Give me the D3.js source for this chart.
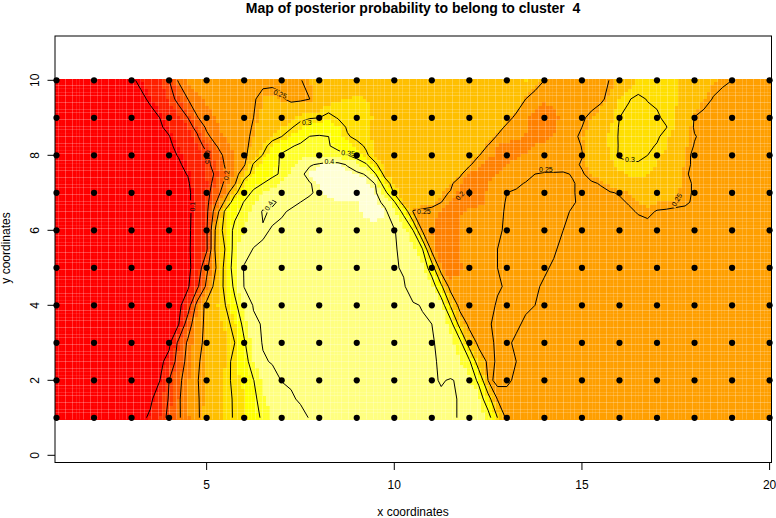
<!DOCTYPE html>
<html><head><meta charset="utf-8">
<script src="https://cdnjs.cloudflare.com/ajax/libs/d3/7.8.5/d3.min.js"></script>
<style>html,body{margin:0;padding:0;background:#fff}svg{display:block}text{font-family:"Liberation Sans",Arial,sans-serif;fill:#000}</style>
</head><body><svg id="c" width="776" height="518"></svg>
<script>
// posterior probability (per mille); x = 1, 1.25 ... 20
const rowY100=[85,85,85,85, 87,88,90,93, 97,104,118,133, 149,205,232,236, 238,240,242,243, 244,245,245,245, 245,247,249,256, 262,265,268,268, 268,268,268,268, 268,268,268,268, 268,268,268,268, 268,268,268,269, 270,280,286,272, 250,240,236,234, 234,236,243,251, 258,272,288,295, 295,293,288,276, 266,260,256,253, 250,245,240,238, 236];
const rowY95=[85,85,85,85, 85,86,88,90, 92,96,103,118, 138,158,200,218, 228,232,236,240, 244,248,256,258, 253,244,245,250, 262,272,282,285, 288,286,280,274, 270,270,270,270, 270,270,270,270, 270,270,270,272, 275,285,250,232, 228,230,233,236, 238,241,245,258, 285,299,304,299, 295,292,288,278, 268,256,249,245, 242,240,238,237, 236];
const rowY90=[85,85,85,85, 85,85,86,87, 88,90,94,100, 115,132,150,198, 215,226,232,237, 243,250,258,264, 270,280,292,298, 300,310,298,294, 290,288,283,275, 270,268,268,268, 268,268,268,268, 268,268,270,278, 268,238,228,220, 216,220,228,234, 247,255,265,280, 300,304,306,306, 304,294,282,266, 249,245,243,242, 241,240,239,238, 238];
const rowY875=[85,85,85,85, 85,85,85,86, 87,89,92,97, 106,120,135,162, 208,222,230,236, 243,252,262,274, 285,297,312,322, 330,333,318,296, 291,288,282,273, 269,267,267,267, 267,267,267,267, 267,268,272,270, 240,232,226,218, 216,222,232,240, 250,259,270,285, 302,306,307,307, 305,301,280,264, 248,245,244,243, 242,241,240,239, 238];
const rowY85=[85,85,85,85, 85,85,85,86, 87,88,90,94, 99,113,125,145, 190,218,228,235, 243,255,268,285, 300,315,335,351, 353,350,325,303, 293,288,280,272, 268,266,266,266, 266,266,266,266, 266,268,275,245, 238,232,224,215, 218,225,236,245, 254,264,275,290, 302,306,307,307, 304,290,272,260, 251,246,244,243, 242,241,240,239, 238];
const rowY825=[85,85,85,85, 85,85,85,85, 85,86,88,91, 96,106,118,135, 160,198,218,230, 242,260,285,318, 332,347,356,362, 360,352,340,325, 310,296,282,272, 267,265,265,265, 265,265,265,265, 268,268,248,224, 216,212,218,226, 230,233,236,240, 251,263,273,288, 302,306,306,305, 298,286,270,258, 249,246,244,243, 242,241,240,239, 238];
const rowY80=[85,85,85,85, 85,85,85,85, 85,86,87,90, 95,101,112,128, 145,178,210,225, 242,270,302,335, 355,362,368,372, 374,370,362,352, 330,305,284,272, 266,264,264,264, 264,264,264,264, 270,252,232,222, 216,220,228,232, 234,236,238,242, 249,262,270,286, 303,305,304,300, 290,280,268,254, 247,245,244,243, 242,241,240,239, 238];
const rowY775=[85,85,85,85, 85,85,85,85, 85,85,85,88, 92,97,106,120, 140,165,205,226, 245,305,325,338, 355,370,385,398, 403,410,410,398, 385,356,305,278, 268,265,264,264, 264,264,264,264, 256,228,216,218, 226,232,236,238, 240,241,243,245, 252,260,268,280, 292,297,298,294, 285,274,264,254, 247,245,244,243, 242,241,240,239, 238];
const rowY75=[85,85,85,85, 85,85,85,85, 85,85,85,87, 90,95,101,115, 135,155,195,230, 280,312,330,342, 355,378,395,408, 418,418,415,410, 405,398,352,285, 270,266,265,264, 264,263,262,258, 222,212,215,226, 235,238,244,250, 252,252,252,249, 248,256,264,272, 280,288,291,286, 278,268,262,252, 246,245,244,243, 242,241,240,239, 238];
const rowY725=[85,85,85,85, 85,85,85,85, 85,85,85,85, 88,92,97,115, 130,168,210,245, 315,335,350,364, 378,388,394,399, 405,412,416,416, 412,408,399,322, 280,270,266,264, 264,262,256,232, 204,214,225,232, 236,247,251,252, 252,252,252,251, 247,248,251,258, 268,274,278,276, 270,264,259,254, 248,246,245,244, 243,242,241,240, 240];
const rowY70=[85,85,85,85, 85,85,85,85, 85,85,85,85, 87,90,95,112, 135,178,228,290, 330,358,375,388, 394,396,398,399, 402,410,414,415, 414,410,404,365, 295,275,268,265, 262,256,248,215, 197,210,230,235, 250,252,252,252, 252,252,252,251, 247,246,247,249, 251,255,260,263, 262,260,256,252, 249,246,245,244, 243,242,241,240, 240];
const rowY675=[85,85,85,85, 85,85,85,85, 85,85,85,85, 87,90,96,110, 137,198,260,325, 352,372,388,403, 396,398,400,402, 402,402,403,404, 404,407,410,392, 355,275,266,263, 262,251,225,208, 204,212,228,246, 251,252,253,253, 253,252,252,251, 248,247,247,248, 248,251,255,258, 256,256,254,252, 248,246,245,244, 243,242,241,240, 240];
const rowY65=[85,85,85,85, 85,85,85,85, 85,85,85,85, 87,90,96,108, 140,225,310,340, 360,380,403,397, 399,401,402,402, 402,402,402,402, 404,407,409,406, 378,340,248,245, 240,220,210,222, 234,240,244,248, 251,253,253,253, 253,252,252,249, 246,245,245,245, 246,248,251,253, 249,248,247,247, 246,245,244,243, 242,241,240,240, 240];
const rowY60=[85,85,85,85, 85,85,85,85, 85,85,85,85, 87,90,96,110, 145,260,320,360, 376,388,398,401, 402,402,402,402, 402,402,402,402, 402,402,402,402, 402,385,350,245, 225,210,212,228, 236,240,243,248, 252,253,253,253, 253,252,250,248, 246,245,245,245, 245,245,245,245, 245,244,244,244, 243,243,242,242, 241,241,240,240, 240];
const rowY55=[85,85,85,85, 85,85,85,85, 85,85,85,85, 87,90,96,112, 143,265,302,368, 390,401,402,402, 402,402,402,402, 402,402,402,402, 402,402,402,402, 402,395,380,352, 235,208,210,228, 236,240,244,250, 252,253,253,253, 253,251,248,247, 246,245,245,245, 245,245,245,245, 245,244,244,244, 243,243,242,242, 241,241,240,240, 240];
const rowY50=[85,85,85,85, 85,85,85,85, 85,85,85,85, 86,88,92,118, 190,250,315,372, 402,402,402,402, 402,402,402,402, 402,402,402,402, 402,402,402,402, 402,398,390,382, 325,225,210,222, 232,238,244,250, 252,253,253,253, 251,249,247,246, 246,245,245,245, 245,245,245,245, 245,244,244,244, 243,243,242,242, 241,241,240,240, 240];
const rowY45=[85,85,85,85, 85,85,85,85, 85,85,85,85, 86,88,95,140, 210,270,310,360, 401,402,402,402, 402,402,402,402, 402,402,402,402, 402,402,402,402, 402,402,390,384, 378,310,232,232, 238,240,245,249, 251,252,252,251, 249,247,246,246, 245,245,245,245, 245,245,245,245, 245,244,244,244, 243,243,242,242, 241,241,240,240, 240];
const rowY40=[85,85,85,85, 85,85,85,85, 85,85,85,85, 86,90,125,218, 262,283,300,340, 380,402,402,402, 402,402,402,402, 402,402,402,402, 402,402,402,402, 402,402,402,399, 388,378,295,235, 240,243,247,251, 252,252,251,250, 248,247,246,245, 245,245,245,245, 245,245,245,245, 245,244,244,244, 243,243,242,242, 241,241,240,240, 240];
const rowY35=[85,85,85,85, 85,85,85,85, 85,85,85,85, 88,97,175,235, 258,272,290,310, 365,395,402,402, 402,402,402,402, 402,402,402,402, 402,402,402,402, 402,402,402,402, 400,385,370,280, 240,240,249,252, 252,251,249,247, 246,245,245,245, 245,245,245,245, 245,245,245,245, 245,244,244,244, 243,243,242,242, 241,241,240,240, 240];
const rowY30=[85,85,85,85, 85,85,85,85, 85,85,85,86, 90,160,207,243, 256,266,280,300, 345,385,402,402, 402,402,402,402, 402,402,402,402, 402,402,402,402, 402,402,402,402, 402,395,380,365, 275,242,247,252, 251,249,248,247, 246,245,245,245, 245,245,245,245, 245,245,245,245, 245,244,244,244, 243,243,242,242, 241,241,240,240, 240];
const rowY25=[85,85,85,85, 85,85,85,85, 85,85,85,90, 115,170,215,247, 258,268,285,312, 330,375,397,402, 402,402,402,402, 402,402,402,402, 402,402,402,402, 402,402,402,402, 402,398,390,375, 358,270,245,252, 251,250,248,247, 246,245,245,245, 245,245,245,245, 245,245,245,245, 245,244,244,244, 243,243,242,242, 241,241,240,240, 240];
const rowY20=[85,85,85,85, 85,85,85,85, 85,85,90,99, 150,190,220,249, 258,270,293,306, 320,349,378,390, 401,402,402,402, 402,402,402,402, 402,402,402,402, 402,402,402,402, 402,399,401,398, 382,340,249,251, 252,248,247,246, 246,245,245,245, 245,245,245,245, 245,245,245,245, 245,244,244,244, 243,243,242,242, 241,241,240,240, 240];
const rowY15=[85,85,85,85, 85,85,85,85, 85,85,92,125, 153,195,222,248, 258,272,290,304, 315,338,372,380, 388,398,402,402, 402,402,402,402, 402,402,402,402, 402,402,402,402, 402,402,402,399, 390,378,320,248, 246,246,245,245, 245,245,245,245, 245,245,245,245, 245,245,245,245, 245,244,244,244, 243,243,242,242, 241,241,240,240, 240];
const rowY10=[85,85,85,85, 85,85,85,85, 85,90,107,134, 158,195,220,247, 260,275,291,303, 310,328,360,380, 385,390,395,401, 402,402,402,402, 402,402,402,402, 402,402,402,402, 402,402,402,399, 390,380,370,300, 240,240,240,240, 240,240,240,240, 240,240,240,240, 240,240,240,240, 240,240,240,240, 240,240,240,240, 240,240,240,240, 240];
const probabilityRows=[rowY100,rowY95,rowY90,rowY875,rowY85,rowY825,rowY80,rowY775,rowY75,rowY725,rowY70,rowY675,rowY65,rowY60,rowY55,rowY50,rowY45,rowY40,rowY35,rowY30,rowY25,rowY20,rowY15,rowY10];
const rowYs=[10,9.5,9,8.75,8.5,8.25,8,7.75,7.5,7.25,7,6.75,6.5,6,5.5,5,4.5,4,3.5,3,2.5,2,1.5,1];

const colorBreaks=[105,135,165,195,225,255,285,315,345,375,405];
const heatColors=["#FF0000","#FF2000","#FF4000","#FF6000","#FF8000","#FF9F00","#FFBF00","#FFDF00","#FFFF00","#FFFF2A","#FFFF80","#FFFFD5"];
const contourLevels=[100,150,200,250,300,350,400];
const pointXs=[1,2,3,4,5,6,7,8,9,10,11,12,13,14,15,16,17,18,19,20];
const pointYs=[1,2,3,4,5,6,7,8,9,10];
const xTicks=[5,10,15,20];
const yTicks=[0,2,4,6,8,10];
const labelTexts=["0.1","0.15","0.2","0.25","0.3","0.35","0.4","0.4","0.25","0.2","0.25","0.3","0.25"];
const labelXs=[4.63,5.01,5.53,6.96,7.67,8.77,8.27,6.66,10.79,11.75,14.04,16.28,17.53];
const labelYs=[6.63,7.95,7.47,9.63,8.87,8.06,7.83,6.65,6.49,6.92,7.63,7.9,6.81];
const labelAngles=[-90,90,-85,22,0,5,0,-60,0,-50,0,0,-60];

const svg=d3.select("#c");
const x=d3.scaleLinear().domain([1,20]).range([56.5,769.6]);
const y=d3.scaleLinear().domain([0,10]).range([455.3,80.3]);
const nx=probabilityRows[0].length, ny=probabilityRows.length, dx=0.25;
const rowPos=d3.scaleLinear().domain(rowYs.map((v,i)=>i+0.5)).range(rowYs);
const flat=probabilityRows.flat();
const proj=d3.geoTransform({point(cx,cy){this.stream.point(x(1+(cx-0.5)*dx),y(rowPos(cy)));}});
const path=d3.geoPath(proj);
const gen=d3.contours().size([nx,ny]);
const defs=svg.append("defs");
// image cells: 200 x 100 cells centred on the grid; each takes the band of the contour it lies in
const cellsX=200, cellsY=100, cw=19/(cellsX-1), ch=9/(cellsY-1);
const centersX=d3.range(cellsX).map(i=>1+i*cw), centersY=d3.range(cellsY).map(j=>1+j*ch);
const cv=document.createElement("canvas");cv.width=776;cv.height=518;
const ctx=cv.getContext("2d",{willReadFrequently:true});
const canvasPath=d3.geoPath(proj,ctx);
const band=new Int8Array(cellsX*cellsY);
colorBreaks.forEach((b,k)=>{
  ctx.clearRect(0,0,776,518);ctx.beginPath();canvasPath(gen.contour(flat,b));ctx.fillStyle="#000";ctx.fill("evenodd");
  const im=ctx.getImageData(0,0,776,518).data;
  centersY.forEach((v,j)=>{const py=Math.floor(y(v));centersX.forEach((u,i)=>{const px=Math.min(775,Math.floor(x(u)));if(im[(py*776+px)*4+3]>127)band[j*cellsX+i]=k+1;});});
});
const gi=svg.append("g");
heatColors.forEach((c,k)=>{
  let d="";
  centersY.forEach((v,j)=>{const y0=y(v+ch/2),y1=y(v-ch/2);centersX.forEach((u,i)=>{if(band[j*cellsX+i]===k){const x0=x(u-cw/2),x1=x(u+cw/2);d+=`M${x0} ${y0}H${x1}V${y1}H${x0}Z`;}});});
  gi.append("path").attr("d",d).attr("fill",c).attr("shape-rendering","crispEdges");
});
const imgL=x(1-cw/2),imgR=x(20+cw/2),imgT=y(10+ch/2),imgB=y(1-ch/2);
// pale seams between image cells
const seamsX=d3.range(1,cellsX).map(i=>x(1+(i-0.5)*cw));
const seamsY=d3.range(1,cellsY).map(j=>y(1+(j-0.5)*ch));
const op=p=>{const a=p-Math.floor(p);return Math.max(0,a*(1-a)-0.1)*1.7;};
gi.selectAll("rect.sx").data(seamsX).join("rect").attr("class","sx").attr("x",p=>Math.floor(p)).attr("y",imgT).attr("width",1).attr("height",imgB-imgT).attr("fill","#fff").attr("opacity",op);
gi.selectAll("rect.sy").data(seamsY).join("rect").attr("class","sy").attr("y",p=>Math.floor(p)).attr("x",imgL).attr("height",1).attr("width",imgR-imgL).attr("fill","#fff").attr("opacity",op);
// contour lines with gaps at labels
defs.append("clipPath").attr("id","grid").append("rect").attr("x",x(1)).attr("y",y(10)).attr("width",x(20)-x(1)).attr("height",y(1)-y(10));
const mask=defs.append("mask").attr("id","gaps").attr("maskUnits","userSpaceOnUse").attr("x",0).attr("y",0).attr("width",776).attr("height",518);
mask.append("rect").attr("width",776).attr("height",518).attr("fill","#fff");
labelTexts.forEach((t,i)=>{const w=t.length*3.6+2;mask.append("rect").attr("x",-w/2).attr("y",-3).attr("width",w).attr("height",6).attr("fill","#000").attr("transform",`translate(${x(labelXs[i])},${y(labelYs[i])}) rotate(${labelAngles[i]})`);});
const gl=svg.append("g").attr("clip-path","url(#grid)").append("g").attr("mask","url(#gaps)");
contourLevels.forEach(l=>{gl.append("path").attr("d",path(gen.contour(flat,l))).attr("fill","none").attr("stroke","#000").attr("stroke-width",1);});
labelTexts.forEach((t,i)=>{svg.append("text").text(t).attr("text-anchor","middle").attr("dy","0.35em").attr("font-size",7).attr("transform",`translate(${x(labelXs[i])},${y(labelYs[i])}) rotate(${labelAngles[i]})`);});
// points
svg.append("g").selectAll("circle").data(pointYs.flatMap(v=>pointXs.map(u=>[u,v]))).join("circle").attr("cx",d=>x(d[0])).attr("cy",d=>y(d[1])).attr("r",3.1).attr("fill","#000");
// frame
svg.append("rect").attr("x",55).attr("y",36).attr("width",716.5).attr("height",426.5).attr("fill","none").attr("stroke","#000").attr("stroke-width",1);
// axes
const ax=svg.append("g").attr("transform","translate(0,462.5)").call(d3.axisBottom(x).offset(0).tickValues(xTicks).tickSize(7.5).tickPadding(0).tickFormat(d3.format("d")));
ax.select(".domain").remove();
ax.selectAll("line").attr("stroke","#000");
ax.selectAll("text").attr("y",null).attr("dy",null).attr("transform","translate(0,26)").attr("font-size",12).attr("font-family","'Liberation Sans'");
const ay=svg.append("g").attr("transform","translate(55,0)").call(d3.axisLeft(y).offset(0).tickValues(yTicks).tickSize(7.5).tickFormat(d3.format("d")));
ay.select(".domain").remove();
ay.selectAll("line").attr("stroke","#000");
ay.selectAll("text").attr("x",null).attr("dy",null).attr("text-anchor","middle").attr("transform","translate(-16.5,0) rotate(-90)").attr("font-size",12).attr("font-family","'Liberation Sans'");
// titles
svg.append("text").text("Map of posterior probability to belong to cluster  4").attr("x",413).attr("y",12.8).attr("text-anchor","middle").attr("font-weight","bold").attr("font-size",14).style("white-space","pre");
svg.append("text").text("x coordinates").attr("x",413).attr("y",515.5).attr("text-anchor","middle").attr("font-size",12);
svg.append("text").text("y coordinates").attr("transform","translate(10,248) rotate(-90)").attr("text-anchor","middle").attr("font-size",12);
</script></body></html>
